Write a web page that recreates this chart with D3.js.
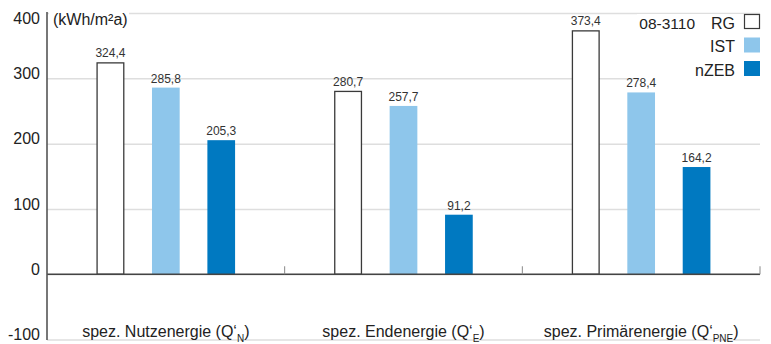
<!DOCTYPE html>
<html>
<head>
<meta charset="utf-8">
<script src="https://cdn.jsdelivr.net/npm/d3@7"></script>
<style>
  html, body { margin: 0; padding: 0; background: #fff; }
  svg { display: block; font-family: "Liberation Sans", Arial, sans-serif; }
</style>
</head>
<body>
<svg id="chart" width="771" height="344"></svg>
<script>
// Energy demand per category (kWh/m²a)
const categories = ["spez. Nutzenergie", "spez. Endenergie", "spez. Primärenergie"];
const categorySubscripts = ["N", "E", "PNE"];
const seriesNames = ["RG", "IST", "nZEB"];
const rgValues = [324.4, 280.7, 373.4];
const istValues = [285.8, 257.7, 278.4];
const nzebValues = [205.3, 91.2, 164.2];
const yTickValues = [-100, 0, 100, 200, 300, 400];
const unitLabel = "(kWh/m²a)";
const legendTitle = "08-3110";

const seriesValues = [rgValues, istValues, nzebValues];
const seriesFill = ["#ffffff", "#8ec6eb", "#0079c1"];
const seriesStroke = ["#3a3a3a", "none", "none"];

const svg = d3.select("#chart");
const plotLeft = 47, plotRight = 760, plotTop = 13, plotBottom = 339.6;

const x0 = d3.scaleBand().domain(categories).range([plotLeft, plotRight]).paddingInner(0).paddingOuter(0);
const x1 = d3.scaleBand().domain(seriesNames).range([0, x0.bandwidth()])
  .paddingInner(0.5).paddingOuter(0.895);
const y = d3.scaleLinear().domain([-100, 400]).range([plotBottom, plotTop]);

// Gridlines and tick labels (plain hyphen for negatives)
const yAxis = svg.append("g")
  .attr("transform", `translate(${plotLeft},0)`)
  .call(d3.axisLeft(y).tickValues(yTickValues).tickSize(-(plotRight - plotLeft)).tickPadding(7)
    .tickFormat(d => String(d)));
yAxis.select(".domain").remove();
yAxis.selectAll(".tick line").attr("stroke", "#dedede").attr("stroke-width", 1.5);
yAxis.selectAll(".tick text")
  .attr("dy", d => d === 400 ? "0.68em" : "0.02em")
  .attr("font-size", 16)
  .attr("fill", "#222")
  .style("font-family", "'Liberation Sans', Arial, sans-serif");

// Unit label with white backing over the top gridline
svg.append("rect").attr("x", 49).attr("y", 8).attr("width", 80).attr("height", 20).attr("fill", "#fff");
svg.append("text").attr("x", 53).attr("y", 25).attr("font-size", 16).attr("fill", "#222").text(unitLabel);

// Legend backing
svg.append("rect").attr("x", 637).attr("y", 14).attr("width", 125).attr("height", 66).attr("fill", "#fff");

// Bars
const groups = svg.append("g").selectAll("g")
  .data(categories)
  .join("g")
  .attr("transform", d => `translate(${x0(d)},0)`);

groups.each(function(cat, ci) {
  const g = d3.select(this);
  seriesNames.forEach((s, si) => {
    const v = seriesValues[si][ci];
    const inset = si === 0 ? 0.5 : 0;
    g.append("rect")
      .attr("x", x1(s) + inset)
      .attr("y", y(v) + inset)
      .attr("width", x1.bandwidth() - 2 * inset)
      .attr("height", y(0) - y(v) - inset)
      .attr("fill", seriesFill[si])
      .attr("stroke", seriesStroke[si])
      .attr("stroke-width", 1.3);
    g.append("text")
      .attr("x", x1(s) + x1.bandwidth() / 2)
      .attr("y", y(v) - 5)
      .attr("text-anchor", "middle")
      .attr("font-size", 12)
      .attr("fill", "#333")
      .text(v.toFixed(1).replace(".", ","));
  });
});

// Zero line and category separators
svg.append("line")
  .attr("x1", plotLeft).attr("x2", plotRight)
  .attr("y1", y(0)).attr("y2", y(0))
  .attr("stroke", "#444").attr("stroke-width", 1.6);
categories.forEach(c => {
  const xe = x0(c) + x0.bandwidth();
  svg.append("line")
    .attr("x1", xe).attr("x2", xe)
    .attr("y1", y(0) - 8).attr("y2", y(0))
    .attr("stroke", "#888").attr("stroke-width", 1);
});

// Vertical axis line
svg.append("line")
  .attr("x1", plotLeft).attr("x2", plotLeft)
  .attr("y1", plotTop - 1).attr("y2", plotBottom + 0.5)
  .attr("stroke", "#555").attr("stroke-width", 1.6);

// Category labels with subscripts
categories.forEach((c, i) => {
  const t = svg.append("text")
    .attr("x", x0(c) + x0.bandwidth() / 2)
    .attr("y", 337)
    .attr("text-anchor", "middle")
    .attr("font-size", 16)
    .attr("fill", "#222");
  t.append("tspan").text(c + " (Q‘");
  t.append("tspan").attr("font-size", 10).attr("dy", 4.5).text(categorySubscripts[i]);
  t.append("tspan").attr("dy", -4.5).text(")");
});

// Legend
svg.append("text").attr("x", 695).attr("y", 29).attr("text-anchor", "end")
  .attr("font-size", 15.5).attr("fill", "#222").text(legendTitle);
const legendY = [14, 37.5, 61];
seriesNames.forEach((s, i) => {
  const inset = i === 0 ? 0.5 : 0;
  svg.append("text")
    .attr("x", 735).attr("y", legendY[i] + 14.5)
    .attr("text-anchor", "end")
    .attr("font-size", 16).attr("fill", "#222")
    .text(s);
  svg.append("rect")
    .attr("x", 744 + inset).attr("y", legendY[i] + inset)
    .attr("width", 16 - 2 * inset).attr("height", 15 - 2 * inset)
    .attr("fill", seriesFill[i])
    .attr("stroke", i === 0 ? "#3a3a3a" : "none").attr("stroke-width", 1.2);
});
</script>
</body>
</html>
